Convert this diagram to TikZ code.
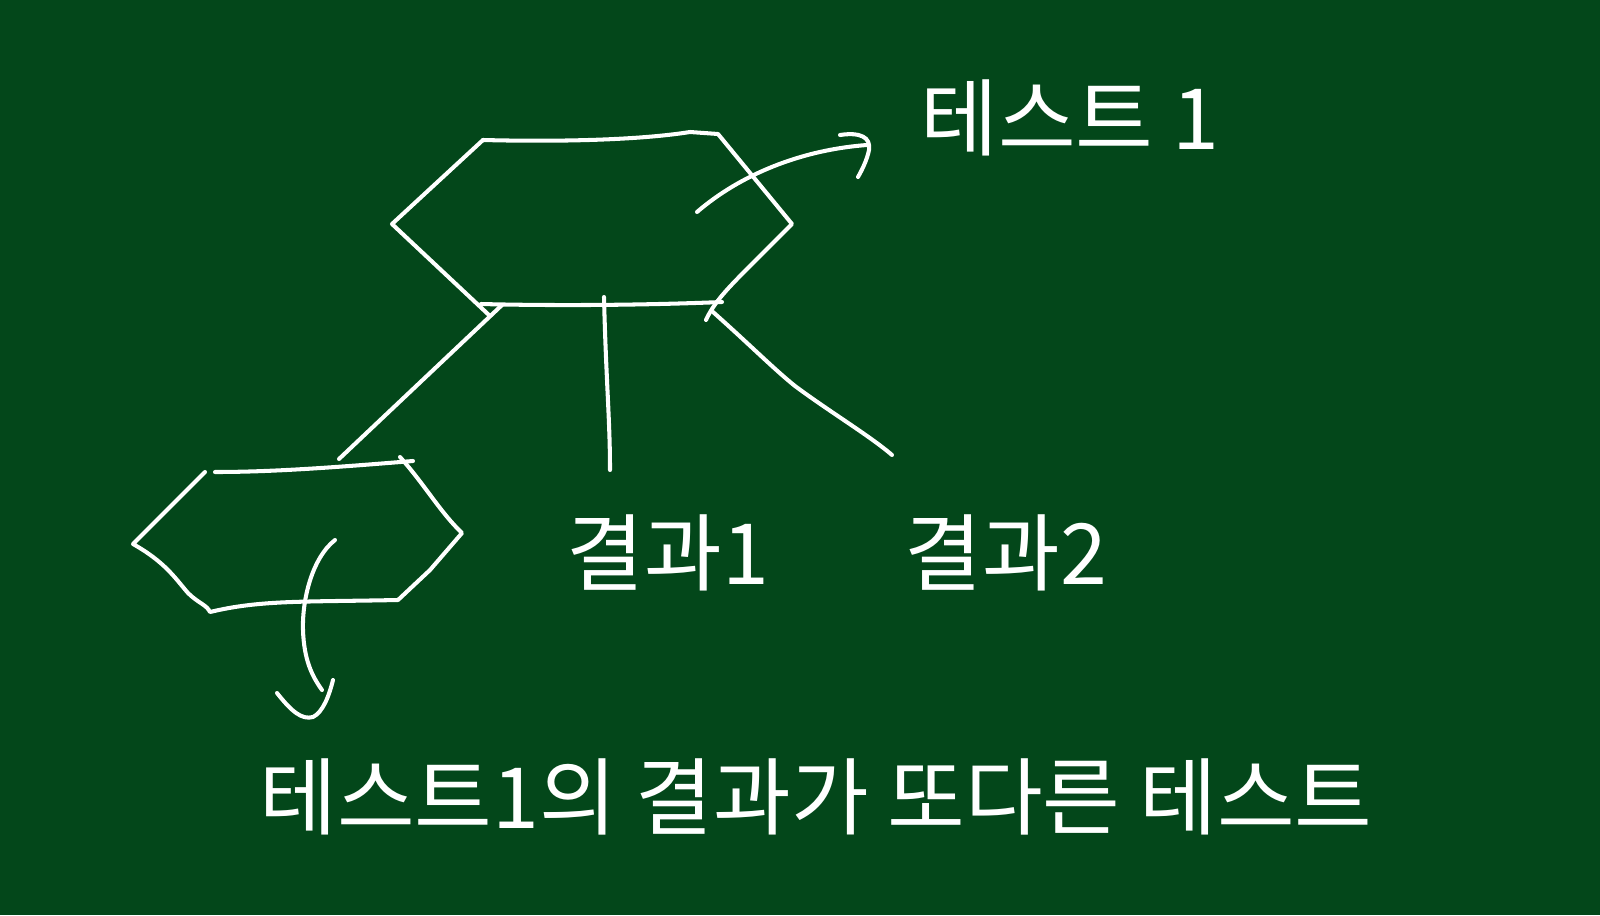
\documentclass[tikz,border=0pt]{standalone}
\usepackage{fontspec}
\newfontfamily\kr{Noto Sans CJK KR}
\definecolor{board}{HTML}{03471A}
\tikzset{
  chalk/.style={draw=white, line width=1.15pt, line cap=round, line join=round},
  lbl/.style={text=white, font=\kr\fontsize{24}{26}\selectfont, inner sep=0pt}
}
\begin{document}
\begin{tikzpicture}[x=0.01cm, y=-0.01cm]
\fill[board] (0,0) rectangle (1600,915);
\useasboundingbox (0,0) rectangle (1600,915);

% top hexagon
\coordinate (tTL) at (483,140);
\coordinate (tTR) at (718,134);
\coordinate (tR) at (792,224);
\coordinate (tL) at (392,224);
\coordinate (tBL) at (481,304);
\coordinate (tBR) at (722,302);
\draw[chalk] (tTL) .. controls (560,142) and (640,140) .. (690,132) -- (tTR) -- (tR) -- (750,266) .. controls (730,286) and (714,302) .. (706,320);
\draw[chalk] (tBL) .. controls (560,306) and (650,305) .. (tBR);
\draw[chalk] (tTL) -- (tL) -- (490,316);

% connectors from top hexagon
\coordinate (c1s) at (502,305);
\coordinate (c1e) at (339,459);
\coordinate (c2s) at (604,297);
\coordinate (c2e) at (610,470);
\coordinate (c3s) at (713,312);
\coordinate (c3e) at (892,455);
\draw[chalk] (c1s) -- (c1e);
\draw[chalk] (c2s) .. controls (606,380) and (610,420) .. (c2e);
\draw[chalk] (c3s) .. controls (750,345) and (775,370) .. (795,386) .. controls (830,412) and (870,436) .. (c3e);

% arrow to "테스트 1"
\coordinate (a1s) at (697,212);
\coordinate (a1e) at (867,145);
\draw[chalk] (a1s) .. controls (740,175) and (800,150) .. (a1e);
\draw[chalk] (840,135) .. controls (860,132) and (871,137) .. (869,150) .. controls (867,160) and (862,170) .. (858,177);

% bottom hexagon
\coordinate (bTL) at (205,472);
\coordinate (bTR) at (413,461);
\coordinate (bL) at (133,544);
\coordinate (bR) at (462,533);
\coordinate (bBL) at (210,612);
\coordinate (bBR) at (398,600);
\draw[chalk] (215,472) .. controls (280,472) and (350,466) .. (bTR);
\draw[chalk] (bTL) -- (bL) .. controls (165,562) and (175,578) .. (188,593) .. controls (198,603) and (207,605) .. (bBL) .. controls (260,600) and (300,602) .. (bBR) -- (430,570) -- (bR) .. controls (440,512) and (425,485) .. (400,457);

% bottom arrow
\coordinate (a2s) at (335,540);
\coordinate (a2e) at (322,690);
\draw[chalk] (a2s) .. controls (312,558) and (302,600) .. (303,630) .. controls (304,660) and (312,676) .. (a2e);
\draw[chalk] (277,693) .. controls (292,712) and (302,720) .. (313,717) .. controls (323,712) and (329,696) .. (333,680);

% labels
\node[lbl] (test1) at (1070,118) {테스트 1};
\node[lbl] (res1) at (668,553) {결과1};
\node[lbl] (res2) at (1006,553) {결과2};
\node[lbl] (note) at (816,797) {테스트1의 결과가 또다른 테스트};
\end{tikzpicture}
\end{document}
